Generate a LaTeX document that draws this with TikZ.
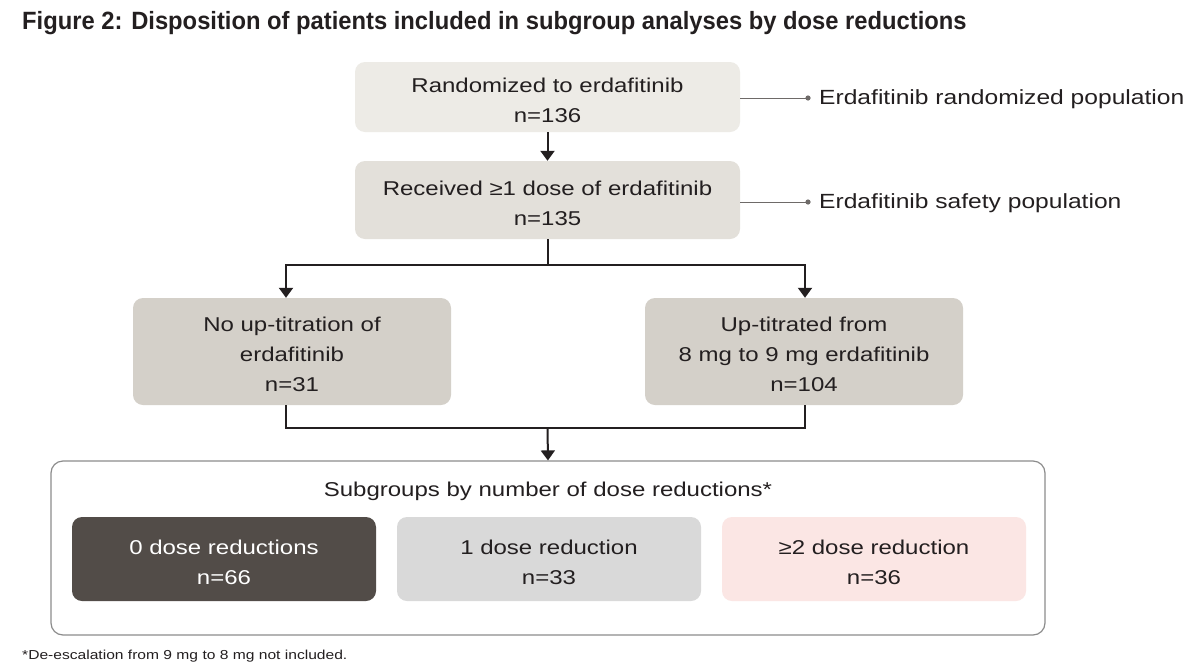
\documentclass[tikz,border=0pt]{standalone}
\usepackage{fontspec}
\setmainfont{Liberation Sans}
\newfontfamily\widefont[FakeStretch=1.2]{Liberation Sans}
\newfontfamily\titlefont[FakeStretch=0.95]{Liberation Sans}
\usetikzlibrary{arrows.meta,positioning}
\newcommand{\dn}{\rule{0pt}{21pt}}
\definecolor{txt}{HTML}{231F20}
\definecolor{fA}{HTML}{EDEBE6}
\definecolor{fB}{HTML}{E3E0DA}
\definecolor{fC}{HTML}{D4D0C9}
\definecolor{fDark}{HTML}{524C48}
\definecolor{fGray}{HTML}{D9D9D9}
\definecolor{fPink}{HTML}{FBE6E4}
\definecolor{edge}{HTML}{8C8C8C}
\definecolor{sideline}{HTML}{6E6A68}
\begin{document}
\begin{tikzpicture}[x=1pt,y=-1pt,
  every node/.style={text=txt},
  box/.style={rectangle,rounded corners=10pt,align=center,inner sep=0pt,font=\widefont\fontsize{20}{30}\selectfont},
  conn/.style={draw=txt,line width=2pt},
  arr/.style={conn,-{Triangle[width=14pt,length=10pt]}},
  side/.style={draw=sideline,line width=0.9pt},
  sidelbl/.style={anchor=west,inner sep=0pt,font=\widefont\fontsize{20.5}{26}\selectfont},
]
\useasboundingbox (0,0) rectangle (1200,670);
\fill[white] (0,0) rectangle (1200,670);

\node[anchor=base west,inner sep=0pt,font=\titlefont\fontsize{25}{28}\selectfont\bfseries] (title) at (22,29)
  {Figure 2: Disposition of patients included in subgroup analyses by dose reductions};

\node[box,fill=fA,minimum width=385pt,minimum height=70pt] (b1) at (547.5,97)
  {\dn Randomized to erdafitinib\\n=136};
\node[box,fill=fB,minimum width=385pt,minimum height=78pt] (b2) at (547.5,200)
  {\dn Received ≥1 dose of erdafitinib\\n=135};
\node[box,fill=fC,minimum width=318pt,minimum height=107pt] (b3l) at (292,351.5)
  {\dn No up-titration of\\erdafitinib\\n=31};
\node[box,fill=fC,minimum width=318pt,minimum height=107pt] (b3r) at (804,351.5)
  {\dn Up-titrated from\\8 mg to 9 mg erdafitinib\\n=104};

\node[rectangle,rounded corners=12pt,draw=edge,line width=1.2pt,fill=white,minimum width=994pt,minimum height=174pt,inner sep=0pt] (big) at (548,548) {};
\node[inner sep=0pt,font=\widefont\fontsize{20}{26}\selectfont] (sub) at (548,491) {Subgroups by number of dose reductions*};

\node[box,fill=fDark,text=white,minimum width=304pt,minimum height=84pt] (s0) at (224,559)
  {\dn 0 dose reductions\\n=66};
\node[box,fill=fGray,minimum width=304pt,minimum height=84pt] (s1) at (549,559)
  {\dn 1 dose reduction\\n=33};
\node[box,fill=fPink,minimum width=304pt,minimum height=84pt] (s2) at (874,559)
  {\dn ≥2 dose reduction\\n=36};

\node[anchor=base west,inner sep=0pt,font=\widefont\fontsize{13}{15}\selectfont] (foot) at (22,659)
  {*De-escalation from 9 mg to 8 mg not included.};

% side labels
\coordinate (d1) at (808,98);
\coordinate (d2) at (808,202);
\draw[side] (b1.east |- d1) -- (d1);
\draw[side] (b2.east |- d2) -- (d2);
\fill[sideline] (d1) circle (2.6pt);
\fill[sideline] (d2) circle (2.6pt);
\node[sidelbl] (l1) at (819,99) {Erdafitinib randomized population};
\node[sidelbl] (l2) at (819,203) {Erdafitinib safety population};

% connectors
\draw[arr] (b1.south) -- (b2.north);
\coordinate (split) at (547.5,265);
\draw[conn] (b2.south) -- (split);
\draw[arr] (split) -| ([xshift=-6pt]b3l.north);
\draw[arr] (split) -| ([xshift=1pt]b3r.north);
\coordinate (merge) at (547.5,428);
\draw[conn] ([xshift=-6pt]b3l.south) |- (merge);
\draw[conn] ([xshift=1pt]b3r.south) |- (merge);
\draw[arr] (merge) -- (big.north);
\end{tikzpicture}
\end{document}
